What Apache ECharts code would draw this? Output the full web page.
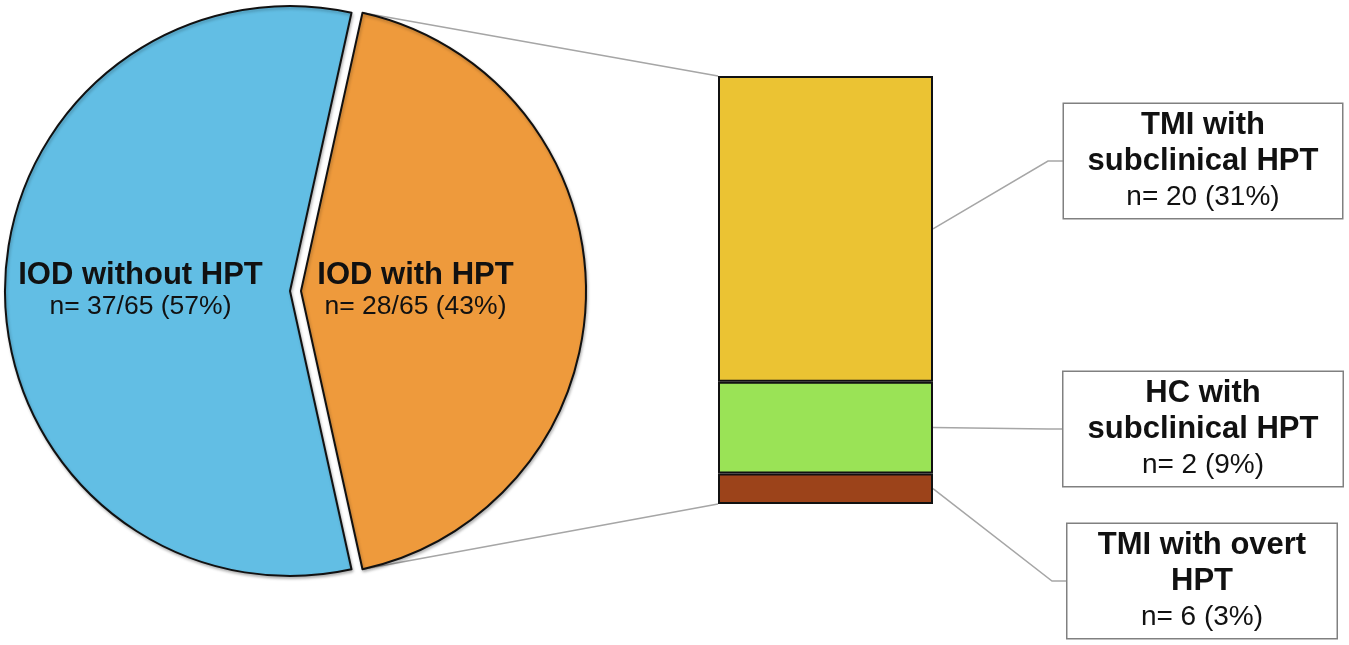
<!DOCTYPE html>
<html>
<head>
<meta charset="utf-8">
<title>IOD and HPT</title>
<script src="https://cdn.jsdelivr.net/npm/echarts@6/dist/echarts.min.js"></script>
<style>
  html, body { margin: 0; padding: 0; background: #fff; }
  #chart { width: 1349px; height: 645px; }
</style>
</head>
<body>
<div id="chart"></div>
<script>
// pie: first slice is the exploded one on the right
const pieNames = ['IOD with HPT', 'IOD without HPT']
const pieValues = [28, 37]
const pieColors = ['#ee9a3c', '#62bee4']

// bar segments, bottom to top
const barValues = [2, 6, 20]
const barColors = ['#9c431a', '#9ae356', '#ebc333']
const barTitles = ['TMI with overt\nHPT', 'HC with\nsubclinical HPT', 'TMI with\nsubclinical HPT']
const barCounts = ['n= 6 (3%)', 'n= 2 (9%)', 'n= 20 (31%)']

// layout
const FONT = "Arial, 'Liberation Sans', sans-serif"
const pieCenter = [290, 291]
const pieRadius = 285
const explode = 11
const grid = { left: 718, top: 76, width: 215, height: 428 }
const boxCenterX = [1202, 1203, 1203]
const boxCenterY = [581, 429, 161]
const boxLeft = [1067, 1063, 1063]
const boxWidth = [271, 281, 280]

const pieTotal = pieValues.reduce((a, b) => a + b, 0)
const barTotal = barValues.reduce((a, b) => a + b, 0)
const halfSpan = 360 * pieValues[0] / pieTotal / 2

const chart = echarts.init(document.getElementById('chart'))

const pieSeries = {
  type: 'pie',
  center: pieCenter,
  radius: pieRadius,
  startAngle: halfSpan,
  clockwise: true,
  selectedMode: 'single',
  selectedOffset: explode,
  emphasis: { disabled: true },
  itemStyle: {
    borderColor: '#111',
    borderWidth: 2,
    shadowBlur: 3,
    shadowOffsetX: 1,
    shadowOffsetY: 2,
    shadowColor: 'rgba(0,0,0,0.25)',
  },
  label: {
    show: true,
    position: 'inside',
    color: '#111',
    fontFamily: FONT,
    formatter: (p) => {
      const pct = Math.round(p.value / pieTotal * 100)
      return `{b|${p.name}}\n{n|n= ${p.value}/${pieTotal} (${pct}%)}`
    },
    rich: {
      b: { fontFamily: FONT, fontSize: 31, fontWeight: 'bold', lineHeight: 32, color: '#111' },
      n: { fontFamily: FONT, fontSize: 26.5, lineHeight: 32, color: '#111' },
    },
  },
  labelLayout: (params) => (params.dataIndex === 0 ? { dx: -31 } : { dx: -2 }),
  labelLine: { show: false },
  data: pieValues.map((v, i) => ({
    name: pieNames[i],
    value: v,
    selected: i === 0,
    itemStyle: { color: pieColors[i] },
  })),
}

const barSeries = barValues.map((v, i) => ({
  type: 'bar',
  stack: 'hpt',
  barWidth: '100%',
  emphasis: { disabled: true },
  itemStyle: { color: barColors[i], borderColor: '#111', borderWidth: 2 },
  label: {
    show: true,
    position: 'inside',
    formatter: () => {
      const title = barTitles[i].split('\n').map((t) => `{b|${t}}`).join('\n')
      return `${title}\n{n|${barCounts[i]}}`
    },
    width: boxWidth[i] - 12,
    padding: [3, 5],
    align: 'center',
    backgroundColor: '#fff',
    borderColor: '#808080',
    borderWidth: 1.5,
    rich: {
      b: { fontFamily: FONT, fontSize: 31, fontWeight: 'bold', lineHeight: 36, color: '#111', align: 'center' },
      n: { fontFamily: FONT, fontSize: 28, lineHeight: 36, color: '#111', align: 'center' },
    },
  },
  labelLayout: { x: boxCenterX[i], y: boxCenterY[i], align: 'center', verticalAlign: 'middle' },
  data: [v],
}))

chart.setOption({
  animation: false,
  backgroundColor: '#fff',
  grid: grid,
  xAxis: { type: 'category', data: ['HPT'], show: false },
  yAxis: { type: 'value', min: 0, max: barTotal, show: false },
  series: [pieSeries, ...barSeries],
})

// connector and leader lines, derived from the pie geometry and the bar axis
const rad = halfSpan * Math.PI / 180
const ox = pieCenter[0] + explode + pieRadius * Math.cos(rad)
const oyTop = pieCenter[1] - pieRadius * Math.sin(rad)
const oyBot = pieCenter[1] + pieRadius * Math.sin(rad)
const yPix = (val) => chart.convertToPixel({ yAxisIndex: 0 }, val)
const barRight = grid.left + grid.width

const lineStyle = { stroke: '#a6a6a6', lineWidth: 1.5, fill: null }
const graphic = [
  { type: 'line', shape: { x1: ox, y1: oyTop, x2: grid.left, y2: yPix(barTotal) }, style: lineStyle, silent: true },
  { type: 'line', shape: { x1: ox, y1: oyBot, x2: grid.left, y2: yPix(0) }, style: lineStyle, silent: true },
]
let base = 0
barValues.forEach((v, i) => {
  const midY = yPix(base + v / 2)
  base += v
  graphic.push({
    type: 'polyline',
    shape: { points: [[barRight, midY], [boxLeft[i] - 15, boxCenterY[i]], [boxLeft[i], boxCenterY[i]]] },
    style: lineStyle,
    silent: true,
  })
})
chart.setOption({ graphic: graphic })

window.addEventListener('resize', () => chart.resize())
</script>
</body>
</html>
